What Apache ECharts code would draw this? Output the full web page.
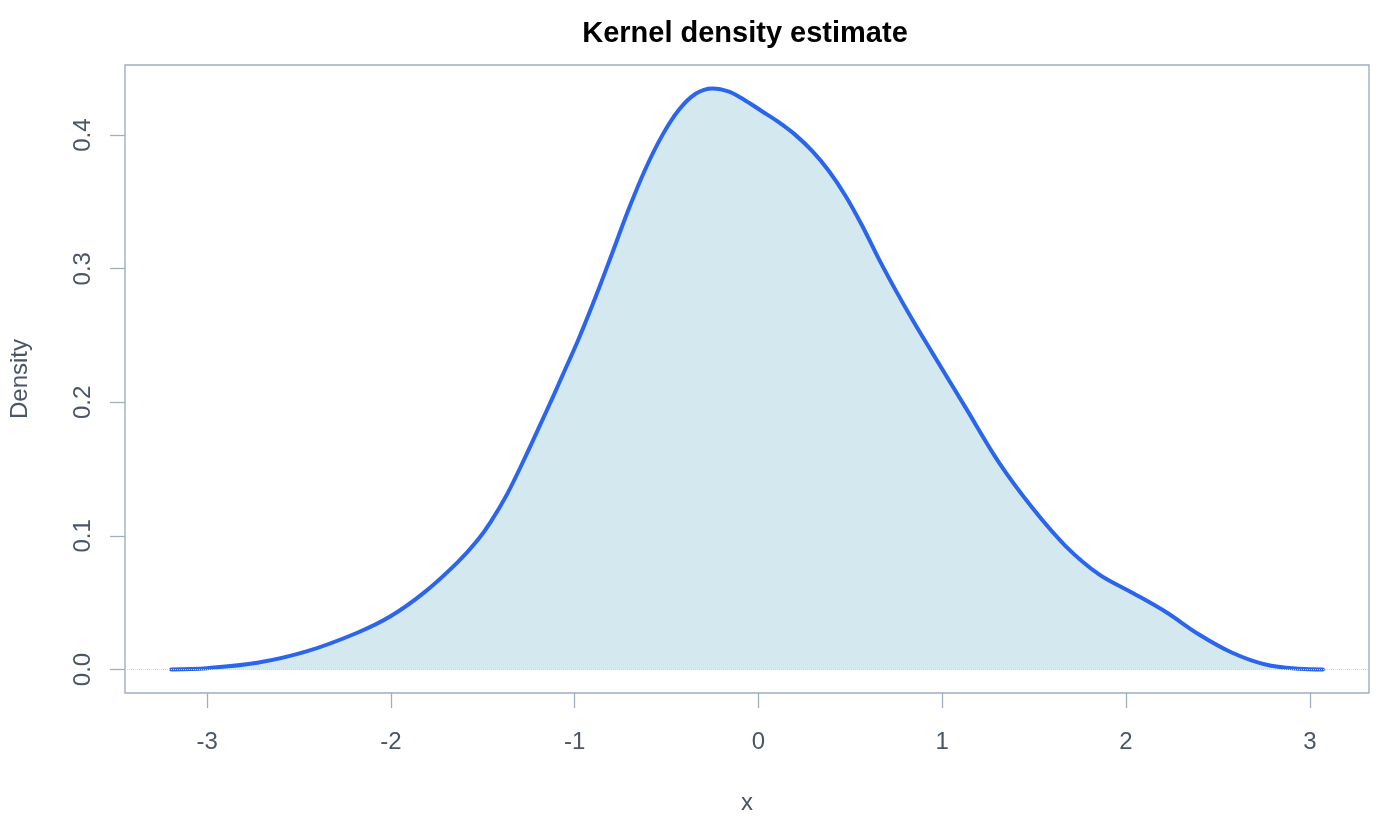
<!DOCTYPE html>
<html>
<head>
<meta charset="utf-8">
<script src="https://cdn.jsdelivr.net/npm/echarts@6.0.0/dist/echarts.min.js"></script>
<style>
html,body{margin:0;padding:0;background:#fff;}
#chart{width:1400px;height:820px;}
</style>
</head>
<body>
<div id="chart"></div>
<script>
const xValues = [-3.196,-3.0,-2.727,-2.455,-2.183,-2.0,-1.82,-1.639,-1.53,-1.457,-1.367,-1.276,-1.185,-1.122,-1.067,-0.977,-0.886,-0.795,-0.705,-0.614,-0.523,-0.433,-0.342,-0.251,-0.16,-0.07,0.021,0.112,0.202,0.293,0.384,0.474,0.565,0.656,0.746,0.837,0.946,1.127,1.308,1.49,1.671,1.853,2.034,2.215,2.397,2.578,2.759,2.941,3.071];
const densityValues = [0.0,0.001,0.005,0.0137,0.0275,0.040,0.0575,0.080,0.0965,0.1105,0.1315,0.157,0.184,0.203,0.220,0.248,0.279,0.312,0.345,0.375,0.400,0.419,0.431,0.435,0.4325,0.4258,0.4177,0.4095,0.400,0.388,0.373,0.3545,0.332,0.307,0.284,0.262,0.237,0.196,0.155,0.121,0.0924,0.0712,0.0575,0.0432,0.0262,0.0125,0.0037,0.0005,0.0];
const xTicks = [-3,-2,-1,0,1,2,3];
const yTicks = [0,0.1,0.2,0.3,0.4];
const titleText = 'Kernel density estimate';
const xName = 'x';
const yName = 'Density';

const points = xValues.map((x,i)=>[x, densityValues[i]]);
const axisGray = '#a0aec0';
const labelGray = '#4a5568';
const font = '"Liberation Sans", Arial, Helvetica, sans-serif';

const chart = echarts.init(document.getElementById('chart'), null, {renderer:'canvas'});
chart.setOption({
  animation:false,
  backgroundColor:'#ffffff',
  title:{
    text:titleText,
    left:740, top:14, textAlign:'center',
    textStyle:{fontFamily:font,fontSize:29,fontWeight:'bold',color:'#000000'}
  },
  grid:{left:125,right:31,top:65,bottom:127,show:true,borderColor:axisGray,borderWidth:1.4,containLabel:false},
  xAxis:{
    type:'value', min:-3.447, max:3.322,
    name:xName, nameLocation:'middle', nameGap:98,
    nameTextStyle:{fontFamily:font,fontSize:24,color:labelGray},
    axisLine:{show:false,onZero:false},
    splitLine:{show:false},
    axisTick:{show:true,customValues:xTicks,length:15,inside:false,lineStyle:{color:axisGray,width:1.3}},
    axisLabel:{customValues:xTicks,margin:37,fontFamily:font,fontSize:24,color:labelGray,formatter:v=>String(v)}
  },
  yAxis:{
    type:'value', min:-0.0176, max:0.4525,
    name:yName, nameLocation:'middle', nameGap:93,
    nameTextStyle:{fontFamily:font,fontSize:24,color:labelGray},
    axisLine:{show:false,onZero:false},
    splitLine:{show:false},
    axisTick:{show:true,customValues:yTicks,length:15,inside:false,lineStyle:{color:axisGray,width:1.3}},
    axisLabel:{customValues:yTicks,margin:30,rotate:90,align:'center',verticalAlign:'bottom',fontFamily:font,fontSize:24,color:labelGray,formatter:v=>v.toFixed(1)}
  },
  series:[{
    type:'line',
    data:points,
    smooth:0.35,
    symbol:'none',
    lineStyle:{color:'#2b65ec',width:4,cap:'round',join:'round'},
    areaStyle:{color:'#d4e8f0',opacity:1,origin:'auto'},
    markLine:{
      silent:true, symbol:'none', label:{show:false},
      lineStyle:{color:'#cbd5e0',type:'dotted',width:1},
      data:[{yAxis:0}]
    },
    z:3
  }]
});
</script>
</body>
</html>
